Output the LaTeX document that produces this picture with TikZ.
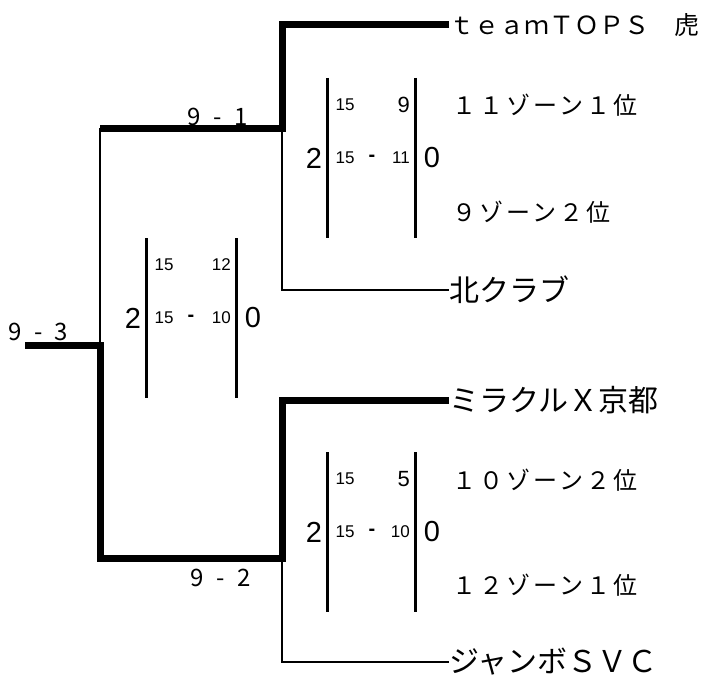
\documentclass[tikz,border=0pt]{standalone}
\usepackage{fontspec}
\setmainfont{Liberation Sans}
\newfontfamily\jp{Noto Sans CJK JP}
\newfontfamily\jpwide{Noto Sans CJK JP}[LetterSpace=13]
\newfontfamily\jplab{Noto Sans CJK JP}[LetterSpace=30]

\begin{document}
\begin{tikzpicture}[x=1pt, y=-1pt,
  winline/.style={line width=7pt},
  loseline/.style={line width=2.5pt},
  scoreline/.style={line width=3pt},
  team/.style={anchor=west, inner sep=0pt, font=\jp\fontsize{30}{30}\selectfont},
  zone/.style={anchor=west, inner sep=0pt, font=\jpwide\fontsize{24}{24}\selectfont},
  round/.style={anchor=west, inner sep=0pt, font=\jplab\fontsize{24}{24}\selectfont},
  big/.style={inner sep=0pt, font=\fontsize{29}{29}\selectfont},
  small/.style={inner sep=0pt, font=\fontsize{17}{17}\selectfont}]
 \useasboundingbox (0,0) rectangle (708,682);
 % teams
 \node[team, font=\jp\fontsize{25}{25}\selectfont] (t1) at (449,25) {ｔｅａｍＴＯＰＳ　虎};
 \node[team] (t2) at (449,290) {北クラブ};
 \node[team] (t3) at (449,400) {ミラクルＸ京都};
 \node[team] (t4) at (449,662) {ジャンボＳＶＣ};
 \node[zone] (z1) at (452,105) {１１ゾーン１位};
 \node[zone] (z2) at (452,212) {９ゾーン２位};
 \node[zone] (z3) at (452,480) {１０ゾーン２位};
 \node[zone] (z4) at (452,585) {１２ゾーン１位};
 % round labels
 \node[round] (r1) at (187,117) {9 - 1};
 \node[round] (r2) at (190,578) {9 - 2};
 \node[round] (r3) at (8,332) {9 - 3};
 % bracket
 \coordinate (sf1) at (282,128);
 \coordinate (sf2) at (282,558);
 \coordinate (fin) at (100,345);
 \coordinate (champ) at (25,345);
 \draw[winline] (t1.west) -| (sf1) -- (fin |- sf1);
 \draw[loseline] (sf1) |- (t2.west);
 \draw[loseline] (fin |- sf1) -- (fin);
 \draw[winline] (champ) -- (fin) |- (sf2) |- (t3.west);
 \draw[loseline] (sf2) |- (t4.west);
 % scores
 \foreach \n/\x/\y/\w/\p/\ps/\q in {a/327/78/88/9/22/11, b/146/238/90/12/17/10, c/327/452/88/5/22/10} {
   \draw[scoreline] (\x,\y) -- ++(0,160);
   \draw[scoreline] (\x+\w,\y) -- ++(0,160);
   \node[big] (\n w) at (\x-13,\y+80) {2};
   \node[big] (\n l) at (\x+\w+17,\y+80) {0};
   \node[small] (\n 1a) at (\x+18,\y+27) {15};
   \node[inner sep=0pt, anchor=east, font=\fontsize{\ps}{\ps}\selectfont] (\n 1b) at (\x+\w-5,\y+27) {\p};
   \node[small] (\n 2a) at (\x+18,\y+80) {15};
   \node[inner sep=0pt, font=\bfseries\fontsize{20}{20}\selectfont] (\n 2m) at (\x+45,\y+80) {-};
   \node[small, anchor=east] (\n 2b) at (\x+\w-5,\y+80) {\q};
 }
\end{tikzpicture}
\end{document}
